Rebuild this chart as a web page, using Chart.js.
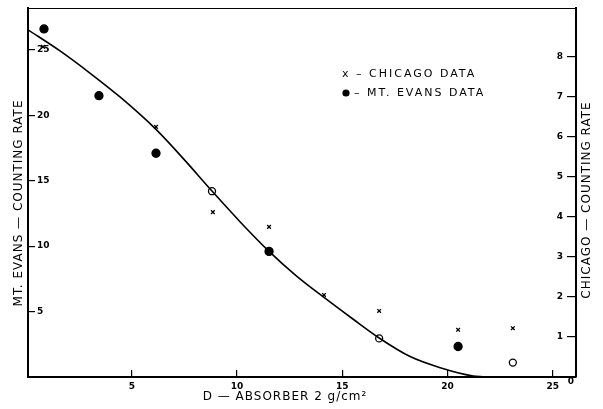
<!DOCTYPE html>
<html><head><meta charset="utf-8">
<script src="https://cdn.jsdelivr.net/npm/chart.js@4.4.0/dist/chart.umd.min.js"></script>
<style>html,body{margin:0;padding:0;background:#fff;}canvas{display:block;}</style>
</head><body>
<canvas id="c" width="603" height="409"></canvas>
<script>
// Smooth curve (Mt. Evans scale)
const curveX = [0.07, 1.59, 3.01, 4.44, 6.15, 7.48, 8.81, 10.14, 11.52, 12.80, 14.13, 15.47, 16.75, 18.22, 19.65, 21.22, 22.26];
const curveY = [26.53, 24.92, 23.23, 21.40, 18.92, 16.63, 14.21, 11.87, 9.60, 7.75, 6.08, 4.47, 2.98, 1.56, 0.71, 0.08, 0];
// Mt. Evans data (left axis)
const evansX = [0.83, 3.44, 6.15, 8.81, 11.52, 16.75, 20.5, 23.1];
const evansY = [26.6, 21.5, 17.1, 14.2, 9.6, 2.95, 2.33, 1.1];
const evansFilled = [true, true, true, false, true, false, true, false];
// Chicago data (right axis)
const chicagoX = [0.78, 6.15, 8.85, 11.52, 14.13, 16.75, 20.5, 23.1];
const chicagoY = [8.25, 6.25, 4.12, 3.75, 2.05, 1.65, 1.18, 1.22];
// Tick labels
const xTicks = [5, 10, 15, 20, 25];
const leftTicks = [5, 10, 15, 20, 25];
const rightTicks = [0, 1, 2, 3, 4, 5, 6, 7, 8];

const FONT = 'DejaVu Sans';
const tickFont = {size: 9, family: FONT, weight: 'bold'};

const decor = {
  id: 'decor',
  afterDraw(chart) {
    const ctx = chart.ctx, a = chart.chartArea;
    ctx.save();
    ctx.strokeStyle = '#000';
    ctx.lineWidth = 1.2;
    ctx.beginPath();
    ctx.moveTo(a.left, a.top + 0.5);
    ctx.lineTo(a.right, a.top + 0.5);
    ctx.stroke();
    ctx.fillStyle = '#000';
    // right-axis zero label at the corner
    ctx.font = 'bold 9px "' + FONT + '"';
    ctx.textAlign = 'center';
    ctx.textBaseline = 'middle';
    ctx.fillText(String(rightTicks[0]), a.right - 5, chart.scales.y1.getPixelForValue(rightTicks[0]) + 5);
    try { ctx.letterSpacing = '1px'; } catch (e) {}
    ctx.font = '12px "' + FONT + '"';
    // left title
    ctx.save();
    ctx.translate(19, 203);
    ctx.rotate(-Math.PI / 2);
    ctx.fillText('MT. EVANS — COUNTING RATE', 0, 0);
    ctx.restore();
    // right title
    ctx.save();
    ctx.translate(587, 200);
    ctx.rotate(-Math.PI / 2);
    ctx.fillText('CHICAGO — COUNTING RATE', 0, 0);
    ctx.restore();
    // bottom title
    ctx.fillText('D — ABSORBER 2 g/cm²', 285, 397);
    // legend
    try { ctx.letterSpacing = '2px'; } catch (e) {}
    ctx.textAlign = 'left';
    ctx.font = '11px "' + FONT + '"';
    ctx.fillText('x – CHICAGO DATA', 342, 74);
    Chart.helpers.drawPoint(ctx, {pointStyle: 'circle', radius: 3, borderWidth: 1.3}, 346, 93);
    ctx.fillText('– MT. EVANS DATA', 354, 93);
    ctx.restore();
  }
};

const fitY = w => s => { s.width = w; s.paddingTop = 0; s.paddingBottom = 0; };

new Chart(document.getElementById('c').getContext('2d'), {
  type: 'scatter',
  data: {
    datasets: [
      {
        type: 'line',
        data: curveX.map((x, i) => ({x, y: curveY[i]})),
        yAxisID: 'y',
        borderColor: '#000',
        borderWidth: 1.6,
        pointRadius: 0,
        cubicInterpolationMode: 'monotone',
        fill: false
      },
      {
        data: evansX.map((x, i) => ({x, y: evansY[i]})),
        yAxisID: 'y',
        pointStyle: 'circle',
        pointRadius: evansFilled.map(f => f ? 4 : 3.5),
        backgroundColor: evansFilled.map(f => f ? '#000' : '#fff'),
        borderColor: '#000',
        borderWidth: 1.3
      },
      {
        data: chicagoX.map((x, i) => ({x, y: chicagoY[i]})),
        yAxisID: 'y1',
        pointStyle: 'crossRot',
        pointRadius: 2.6,
        borderColor: '#000',
        borderWidth: 1.3
      }
    ]
  },
  options: {
    responsive: false,
    animation: false,
    devicePixelRatio: 1,
    layout: {padding: {top: 8, left: 0, right: 0, bottom: 0}},
    plugins: {legend: {display: false}, tooltip: {enabled: false}},
    scales: {
      x: {
        type: 'linear', min: 0.07, max: 26.1, position: 'bottom',
        afterFit: s => { s.height = 32; s.paddingLeft = 0; s.paddingRight = 0; },
        afterBuildTicks: s => { s.ticks = xTicks.map(v => ({value: v})); },
        grid: {drawOnChartArea: false, tickLength: -7, color: '#000', tickColor: '#000', lineWidth: 1.2},
        border: {display: true, color: '#000', width: 2},
        ticks: {padding: 11, font: tickFont, color: '#000', maxRotation: 0, autoSkip: false}
      },
      y: {
        type: 'linear', min: 0, max: 28.2, position: 'left',
        afterFit: fitY(28),
        afterBuildTicks: s => { s.ticks = leftTicks.map(v => ({value: v})); },
        grid: {drawOnChartArea: false, tickLength: -7, color: '#000', tickColor: '#000', lineWidth: 1.2},
        border: {display: true, color: '#000', width: 2},
        ticks: {mirror: true, padding: 9, font: tickFont, color: '#000', autoSkip: false}
      },
      y1: {
        type: 'linear', min: 0, max: 9.22, position: 'right',
        afterFit: fitY(27),
        afterBuildTicks: s => { s.ticks = rightTicks.map(v => ({value: v})); },
        grid: {drawOnChartArea: false, tickLength: -9, color: '#000', tickColor: '#000', lineWidth: 1.2},
        border: {display: true, color: '#000', width: 2},
        ticks: {mirror: true, padding: -13, font: tickFont, color: '#000', autoSkip: false,
                callback: v => (v === rightTicks[0] ? '' : String(v))}
      }
    }
  },
  plugins: [decor]
});
</script>
</body></html>
